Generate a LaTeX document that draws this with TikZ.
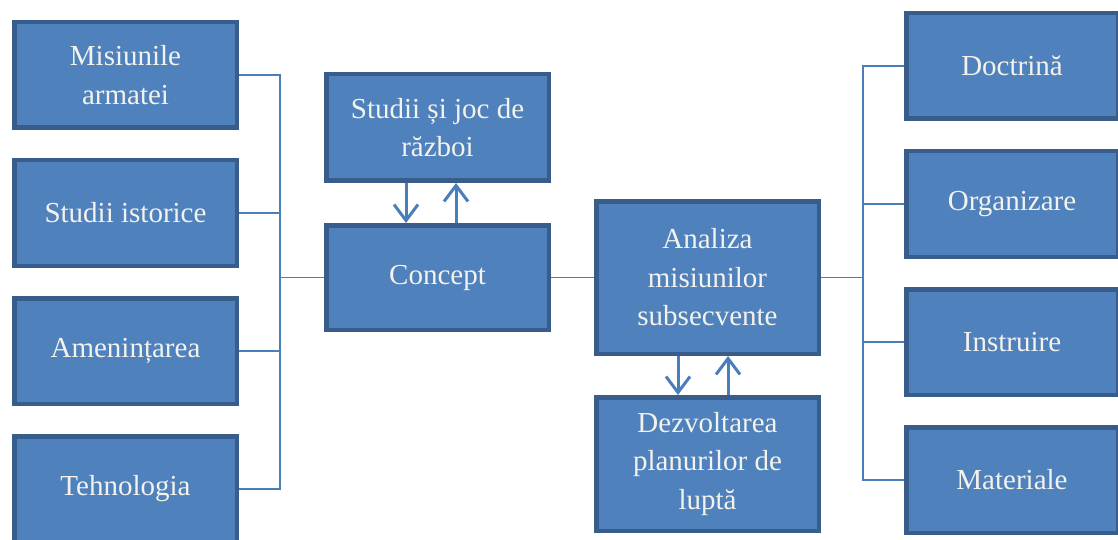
\documentclass[tikz,border=0pt]{standalone}
\usepackage{fontspec}
\setmainfont{Liberation Serif}
\usetikzlibrary{arrows.meta,calc}

\definecolor{boxfill}{HTML}{4F81BD}
\definecolor{boxline}{HTML}{385D8A}
\definecolor{linkcol}{HTML}{4A7EBB}
\definecolor{boxtext}{HTML}{F4F2EC}

\tikzset{
	box/.style={draw=boxline, fill=boxfill, line width=4.5pt, text=boxtext, align=center,
		minimum width=222.5pt, inner sep=0pt, font=\fontsize{29}{38.5}\selectfont},
	bus/.style={draw=linkcol, line width=1.8pt},
	flow/.style={draw=linkcol, line width=3pt, -{Straight Barb[length=16pt,width=24pt]}}
}

\begin{document}
\begin{tikzpicture}[x=1pt,y=-1pt]
	\useasboundingbox (0,0) rectangle (1118,540);

% coloana din stanga
	\node[box, minimum height=105.5pt] (mis) at (125.5,75) {Misiunile\\armatei};
	\node[box, minimum height=105.5pt] (ist) at (125.5,213) {Studii istorice};
	\node[box, minimum height=105.5pt] (ame) at (125.5,351) {Amenințarea};
	\node[box, minimum height=105.5pt] (teh) at (125.5,489) {Tehnologia};

% centru
	\node[box, minimum height=106.5pt] (studii) at (437.5,127.5) {Studii și joc de\\război};
	\node[box, minimum height=104.5pt] (concept) at (437.5,277.5) {Concept};
	\node[box, minimum height=152.5pt] (analiza) at (707.5,277.5) {Analiza\\misiunilor\\subsecvente};
	\node[box, minimum height=133.5pt] (dezv) at (707.5,464) {Dezvoltarea\\planurilor de\\luptă};

% coloana din dreapta
	\node[box, minimum width=211.5pt, minimum height=105.5pt] (doc) at (1012,66) {Doctrină};
	\node[box, minimum width=211.5pt, minimum height=105.5pt] (org) at (1012,204) {Organizare};
	\node[box, minimum width=211.5pt, minimum height=105.5pt] (ins) at (1012,342) {Instruire};
	\node[box, minimum width=211.5pt, minimum height=105.5pt] (mat) at (1012,480) {Materiale};

% legaturi
	\coordinate (lbus) at ($(concept.west)+(-44,0)$);
	\foreach \n in {mis,ist,ame,teh}
		\draw[bus] (\n.east) -| (lbus);
	\draw[bus] (lbus) -- (concept.west);
	\draw[bus] (concept.east) -- (analiza.west);

	\coordinate (rbus) at ($(analiza.east)+(42,0)$);
	\draw[bus] (analiza.east) -- (rbus);
	\foreach \n in {doc,org,ins,mat}
		\draw[bus] (rbus) |- (\n.west);

% sageti
	\draw[flow] ([xshift=-31.5pt]studii.south) -- ([xshift=-31.5pt]concept.north);
	\draw[flow] ([xshift=18.5pt]concept.north) -- ([xshift=18.5pt]studii.south);
	\draw[flow] ([xshift=-29.5pt]analiza.south) -- ([xshift=-29.5pt]dezv.north);
	\draw[flow] ([xshift=20.5pt]dezv.north) -- ([xshift=20.5pt]analiza.south);
\end{tikzpicture}
\end{document}
